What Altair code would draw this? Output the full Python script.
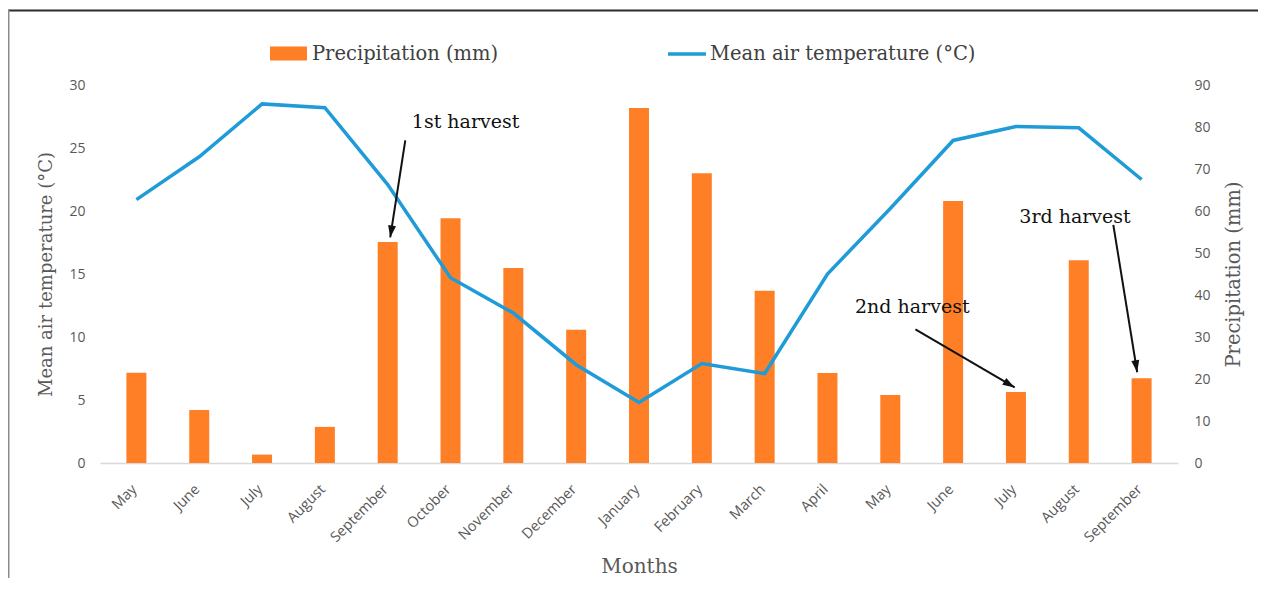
import math
import altair as alt
import pandas as pd

# ---------------- data ----------------
months = ["May", "June", "July", "August", "September", "October", "November",
          "December", "January", "February", "March", "April", "May", "June",
          "July", "August", "September"]
precipitation = [21.5, 12.6, 2.0, 8.6, 52.6, 58.3, 46.4, 31.7, 84.5, 69.0,
                 41.0, 21.4, 16.2, 62.4, 16.9, 48.3, 20.2]
temperature = [20.9, 24.3, 28.5, 28.2, 22.1, 14.7, 11.9, 7.8, 4.8, 7.9,
               7.1, 15.0, 20.2, 25.6, 26.7, 26.6, 22.5]

ann_text = ["1st harvest", "2nd harvest", "3rd harvest"]
ann_x = [5.74, 12.85, 15.44]          # in month-index units
ann_y = [27.1, 12.4, 19.5]            # in °C units
arrow_x0 = [4.78, 12.90, 16.05]
arrow_y0 = [25.6, 10.6, 18.9]
arrow_x1 = [4.54, 14.48, 16.43]
arrow_y1 = [17.9, 6.0, 7.2]

# ---------------- layout ----------------
W, H = 1078, 378
N = len(months)
ORANGE = "#ff7f27"
BLUE = "#1f9bd7"
SERIF = "DejaVu Serif"
SANS = "Open Sans"
GRAY = "#595959"

df = pd.DataFrame({
    "x": [i + 0.5 for i in range(N)],
    "month": months,
    "precip": precipitation,
    "temp": temperature,
})

# arrow-head angle from pixel geometry
px_x = W / N
px_y = H / 30.0
angles = []
for x0, y0, x1, y1 in zip(arrow_x0, arrow_y0, arrow_x1, arrow_y1):
    dx = (x1 - x0) * px_x
    dy = -(y1 - y0) * px_y
    angles.append(math.degrees(math.atan2(dx, -dy)) % 360)

ann_df = pd.DataFrame({"x": ann_x, "y": ann_y, "text": ann_text})
arr_df = pd.DataFrame({"x": arrow_x0, "y": arrow_y0, "x2": arrow_x1,
                       "y2": arrow_y1, "angle": angles})

label_array = "[" + ",".join("'%s'" % m for m in months) + "]"

x_scale = alt.Scale(domain=[0, N], nice=False, zero=False)
x_axis = alt.Axis(
    values=[i + 0.5 for i in range(N)],
    labelExpr=label_array + "[floor(datum.value)]",
    labelAngle=315, labelFont=SANS, labelFontSize=14.5, labelColor=GRAY,
    labelPadding=19, labelOffset=-7, labelOverlap=False, ticks=False,
    grid=False, domainColor="#d9d9d9", domainWidth=1.5, title="Months",
    titleFont=SERIF, titleFontSize=20, titleFontWeight="normal",
    titleColor=GRAY, titlePadding=12,
)
X = alt.X("x:Q", scale=x_scale, axis=x_axis)

temp_scale = alt.Scale(domain=[0, 30], nice=False, zero=True)

bars = alt.Chart(df).transform_calculate(
    series="'Precipitation (mm)'"
).mark_bar(size=20).encode(
    x=X,
    y=alt.Y("precip:Q", scale=alt.Scale(domain=[0, 90], nice=False),
            axis=alt.Axis(orient="right", values=list(range(0, 91, 10)),
                          domain=False, ticks=False, grid=False,
                          labelFont=SANS, labelFontSize=14, labelColor=GRAY,
                          labelPadding=16, title="Precipitation (mm)",
                          titleFont=SERIF, titleFontSize=19.5,
                          titleFontWeight="normal", titleColor=GRAY,
                          titleAngle=270, titleBaseline="top",
                          titlePadding=14)),
    fill=alt.Fill("series:N",
                  scale=alt.Scale(domain=["Precipitation (mm)"], range=[ORANGE]),
                  legend=alt.Legend(orient="none", legendX=170, legendY=-50,
                                    title=None, padding=0, labelLimit=0,
                                    symbolType="M-1,-0.38H1V0.38H-1Z",
                                    symbolSize=1369, symbolStrokeWidth=0,
                                    symbolOpacity=1, labelOffset=5,
                                    labelFont=SERIF, labelFontSize=19.5,
                                    labelColor="#404040")),
)

line = alt.Chart(df).transform_calculate(
    series="'Mean air temperature (°C)'"
).mark_line(strokeWidth=3.5).encode(
    x=X,
    y=alt.Y("temp:Q", scale=temp_scale,
            axis=alt.Axis(orient="left", values=list(range(0, 31, 5)),
                          domain=False, ticks=False, grid=False,
                          labelFont=SANS, labelFontSize=14, labelColor=GRAY,
                          labelPadding=15, title="Mean air temperature (°C)",
                          titleFont=SERIF, titleFontSize=18,
                          titleFontWeight="normal", titleColor=GRAY,
                          titlePadding=13)),
    stroke=alt.Stroke("series:N",
                      scale=alt.Scale(domain=["Mean air temperature (°C)"],
                                      range=[BLUE]),
                      legend=alt.Legend(orient="none", legendX=566, legendY=-52,
                                        title=None, padding=0, labelLimit=0,
                                        symbolType="stroke", symbolSize=1444,
                                        symbolStrokeWidth=3.5, labelOffset=2,
                                        labelFont=SERIF, labelFontSize=19.5,
                                        labelColor="#404040")),
)

ann_text_layer = alt.Chart(ann_df).mark_text(
    font=SERIF, fontSize=19, color="#111111", align="center", baseline="middle"
).encode(
    x=X,
    y=alt.Y("y:Q", scale=temp_scale, axis=None),
    text="text:N",
)

arrow_lines = alt.Chart(arr_df).mark_rule(color="#111111", strokeWidth=2).encode(
    x=X,
    y=alt.Y("y:Q", scale=temp_scale, axis=None),
    x2="x2:Q",
    y2="y2:Q",
)

arrow_heads = alt.Chart(arr_df).mark_point(
    shape="M0,0L-0.8,2.4L0.8,2.4Z", filled=True, size=100, color="#111111",
    opacity=1
).encode(
    x=alt.X("x2:Q", scale=x_scale, axis=x_axis),
    y=alt.Y("y2:Q", scale=temp_scale, axis=None),
    angle=alt.Angle("angle:Q", scale=None),
)

frame_df = pd.DataFrame({"a": [0]})
frame_top = alt.Chart(frame_df).mark_rule(color="#2b2b2b", strokeWidth=2.2).encode(
    x=alt.value(-92), x2=alt.value(1160), y=alt.value(-74.5)
)
frame_left = alt.Chart(frame_df).mark_rule(color="#8c8c8c", strokeWidth=2).encode(
    x=alt.value(-91.5), y=alt.value(-75), y2=alt.value(500)
)

chart = alt.layer(
    bars, line, ann_text_layer, arrow_lines, arrow_heads, frame_top, frame_left
).resolve_scale(
    y="independent", fill="independent", stroke="independent"
).properties(
    width=W, height=H,
    autosize=alt.AutoSizeParams(type="none"),
    padding={"left": 92, "top": 77, "right": 80, "bottom": 115},
).configure_view(stroke=None)

chart.save("out.html", embed_options={"renderer": "svg", "actions": False})
